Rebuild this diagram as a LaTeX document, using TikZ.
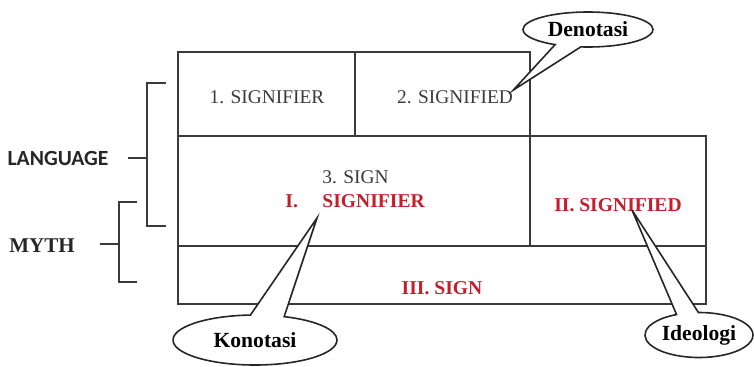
\documentclass[tikz,border=0pt]{standalone}
\usepackage{fontspec}
\setmainfont{Liberation Serif}
\newfontfamily\carlito{Carlito}
\usetikzlibrary{shapes.callouts}
\definecolor{inkgray}{HTML}{3A3A3A}
\definecolor{mythred}{HTML}{C41E2A}

\begin{document}
\begin{tikzpicture}[x=0.5pt, y=0.5pt]
	\tikzset {every node/.style={inner sep=0pt}, frame/.style={line width=1pt, draw=inkgray},
		lang/.style={text=inkgray, font=\fontsize{9.7}{11}\selectfont},
		myth/.style={text=mythred, font=\fontsize{9.8}{11}\selectfont\bfseries},
		bubble/.style={ellipse callout, draw=black!85, line width=0.8pt, fill=white, callout pointer arc=24, font=\fontsize{10.8}{12}\selectfont\bfseries} }

	\useasboundingbox (0,0) rectangle (754,366);

	% rows of the table
	\draw[frame] (178,62) rectangle (706,120);
	\draw[frame] (178,120) rectangle (706,230);
	\draw[frame] (178,230) rectangle (530,314);
	\draw[frame] (355,230) -- (355,314);
	\draw[frame] (530,230) -- (530,120);

	% brackets
	\draw[frame] (166,283) -- (147,283) -- (147,140) -- (166,140);
	\draw[frame] (128,208) -- (147,208);
	\draw[frame] (137,164) -- (119,164) -- (119,84) -- (137,84);
	\draw[frame] (100,122) -- (119,122);

	\node[font=\carlito\fontsize{10.8}{12}\selectfont\bfseries, text=black!85] (language) at (58,208) {LANGUAGE};
	\node[font=\fontsize{10.5}{12}\selectfont\bfseries, text=black!85] (myth) at (42,120) {MYTH};

	\node[lang] (sr) at (267,269) {1. SIGNIFIER};
	\node[lang] (sd) at (455,269) {2. SIGNIFIED};
	\node[lang, anchor=west] (sign) at (322,189) {3. SIGN};
	\node[myth, anchor=west] (msr) at (285,165) {I.\hspace{1.25em}SIGNIFIER};
	\node[myth] (msd) at (618,161) {II. SIGNIFIED};
	\node[myth] (msign) at (442,78) {III. SIGN};

	\coordinate (kon tip) at (317,148);
	\coordinate (ide tip) at (632,156);

	\node[bubble, minimum width=65pt, minimum height=17.5pt, callout absolute pointer={(sd.north east)}] (denotasi) at (588,336.5) {Denotasi};
	\node[bubble, minimum width=82pt, minimum height=25pt, callout absolute pointer={(kon tip)}] (konotasi) at (255,26) {Konotasi};
	\node[bubble, minimum width=54pt, minimum height=22.5pt, callout absolute pointer={(ide tip)}] (ideologi) at (699,31) {Ideologi};
\end{tikzpicture}
\end{document}
